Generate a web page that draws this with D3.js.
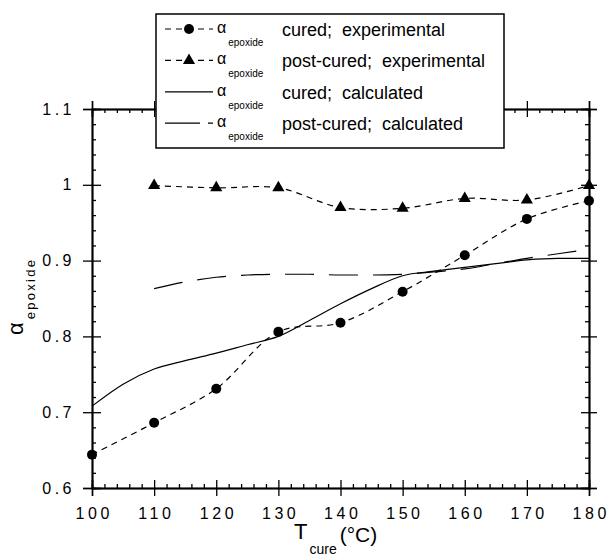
<!DOCTYPE html>
<html><head><meta charset="utf-8">
<script src="https://cdn.jsdelivr.net/npm/d3@7"></script>
<style>
body{margin:0;background:#fff;}
svg{display:block;font-family:"Liberation Sans",Arial,Helvetica,sans-serif;}
</style></head>
<body><svg id="c" width="609" height="557"></svg>
<script>
const xTicks = [100,110,120,130,140,150,160,170,180];
const yTicks = [0.6,0.7,0.8,0.9,1,1.1];
const yTickLabels = ["0.6","0.7","0.8","0.9","1","1.1"];

const curedExpT = [100,110,120,130,140,150,160,170,180];
const curedExpA = [0.644,0.686,0.731,0.806,0.818,0.859,0.907,0.955,0.979];

const postExpT = [110,120,130,140,150,160,170,180];
const postExpA = [0.999,0.996,0.996,0.970,0.969,0.982,0.980,0.999];

const curedCalcT = [100,105,110,115,120,125,130,135,140,145,150,155,160,165,170,175,180];
const curedCalcA = [0.708,0.737,0.757,0.768,0.778,0.789,0.800,0.821,0.843,0.863,0.880,0.886,0.891,0.896,0.901,0.903,0.903];

const postCalcT = [110,115,120,125,130,135,140,145,150,155,160,165,170,175,180];
const postCalcA = [0.863,0.872,0.878,0.881,0.882,0.882,0.881,0.881,0.882,0.885,0.889,0.896,0.903,0.909,0.915];

const legendLabels = ["cured;  experimental","post-cured;  experimental","cured;  calculated","post-cured;  calculated"];

const svg = d3.select("#c");
const x = d3.scaleLinear().domain([100,180]).range([92,589]);
const y = d3.scaleLinear().domain([0.6,1.1]).range([488,109]);
const xMinor = d3.range(100,180.1,2).filter(v=>v%10!==0);
const yMinor = d3.range(0.6,1.1001,0.02).filter(v=>Math.abs(v*10-Math.round(v*10))>0.01);

function styleAxis(g){
  g.select(".domain").attr("stroke","#000").attr("stroke-width",1.5);
  g.selectAll(".tick line").attr("stroke","#000").attr("stroke-width",1.3);
}
// bottom axis
svg.append("g").attr("transform","translate(0,488)")
  .call(d3.axisBottom(x).tickValues(xTicks).tickSize(8).tickPadding(12).tickFormat(d3.format("d")))
  .call(styleAxis)
  .call(g=>g.selectAll("text").attr("font-size",16).attr("letter-spacing","3.5px").attr("fill","#000")
     .attr("font-family","Liberation Sans, Arial, sans-serif").attr("dx","1.7px"));
svg.append("g").attr("transform","translate(0,488)")
  .call(d3.axisBottom(x).tickValues(xTicks).tickSize(-8).tickFormat(""))
  .call(styleAxis);
svg.append("g").attr("transform","translate(0,488)")
  .call(d3.axisBottom(x).tickValues(xMinor).tickSize(-4).tickFormat(""))
  .call(styleAxis);
// top axis
svg.append("g").attr("transform","translate(0,109)")
  .call(d3.axisTop(x).tickValues(xTicks).tickSize(8).tickFormat(""))
  .call(styleAxis);
svg.append("g").attr("transform","translate(0,109)")
  .call(d3.axisTop(x).tickValues(xTicks).tickSize(-8).tickFormat(""))
  .call(styleAxis);
svg.append("g").attr("transform","translate(0,109)")
  .call(d3.axisTop(x).tickValues(xMinor).tickSize(-4).tickFormat(""))
  .call(styleAxis);
// left axis
svg.append("g").attr("transform","translate(92,0)")
  .call(d3.axisLeft(y).tickValues(yTicks).tickSize(9).tickPadding(8).tickFormat((d,i)=>yTickLabels[i]))
  .call(styleAxis)
  .call(g=>g.selectAll("text").attr("font-size",16).attr("letter-spacing","3.5px").attr("fill","#000")
     .attr("font-family","Liberation Sans, Arial, sans-serif"));
svg.append("g").attr("transform","translate(92,0)")
  .call(d3.axisLeft(y).tickValues(yTicks).tickSize(-9).tickFormat(""))
  .call(styleAxis);
svg.append("g").attr("transform","translate(92,0)")
  .call(d3.axisLeft(y).tickValues(yMinor).tickSize(-4).tickFormat(""))
  .call(styleAxis);
// right axis
svg.append("g").attr("transform","translate(589,0)")
  .call(d3.axisRight(y).tickValues(yTicks).tickSize(8).tickFormat(""))
  .call(styleAxis);
svg.append("g").attr("transform","translate(589,0)")
  .call(d3.axisRight(y).tickValues(yTicks).tickSize(-8).tickFormat(""))
  .call(styleAxis);
svg.append("g").attr("transform","translate(589,0)")
  .call(d3.axisRight(y).tickValues(yMinor).tickSize(-4).tickFormat(""))
  .call(styleAxis);

// series
const expLine = d3.line().x(d=>x(d[0])).y(d=>y(d[1])).curve(d3.curveCatmullRom.alpha(0.5));
const calcLine = d3.line().x(d=>x(d[0])).y(d=>y(d[1])).curve(d3.curveMonotoneX);
const zip = (a,b)=>a.map((v,i)=>[v,b[i]]);

svg.append("path").attr("d",calcLine(zip(curedCalcT,curedCalcA)))
  .attr("fill","none").attr("stroke","#000").attr("stroke-width",1.2);
svg.append("path").attr("d",calcLine(zip(postCalcT,postCalcA)))
  .attr("fill","none").attr("stroke","#000").attr("stroke-width",1.2).attr("stroke-dasharray","29,15");
svg.append("path").attr("d",expLine(zip(curedExpT,curedExpA)))
  .attr("fill","none").attr("stroke","#000").attr("stroke-width",1.2).attr("stroke-dasharray","6,5");
svg.append("path").attr("d",expLine(zip(postExpT,postExpA)))
  .attr("fill","none").attr("stroke","#000").attr("stroke-width",1.2).attr("stroke-dasharray","6,5");

const tri = d3.symbol().type(d3.symbolTriangle).size(64);
svg.append("g").selectAll("circle").data(zip(curedExpT,curedExpA)).join("circle")
  .attr("cx",d=>x(d[0])).attr("cy",d=>y(d[1])).attr("r",5).attr("fill","#000");
svg.append("g").selectAll("path").data(zip(postExpT,postExpA)).join("path")
  .attr("d",tri).attr("transform",d=>`translate(${x(d[0])},${y(d[1])})`).attr("fill","#000");

// legend
const lg = svg.append("g");
lg.append("rect").attr("x",156).attr("y",14).attr("width",348).attr("height",134)
  .attr("fill","#fff").attr("stroke","#000").attr("stroke-width",1.5);
const rowY = i=>29+i*31.4;
const dashes = ["6,5","6,5",null,"35,8"];
legendLabels.forEach((lab,i)=>{
  const yy = rowY(i);
  const l = lg.append("line").attr("x1",165).attr("x2",213).attr("y1",yy).attr("y2",yy)
    .attr("stroke","#000").attr("stroke-width",1.2);
  if(dashes[i]) l.attr("stroke-dasharray",dashes[i]);
  if(i===0){ lg.append("rect").attr("x",182).attr("y",yy-6).attr("width",14).attr("height",12).attr("fill","#fff");
    lg.append("circle").attr("cx",189).attr("cy",yy).attr("r",5).attr("fill","#000"); }
  if(i===1){ lg.append("rect").attr("x",182).attr("y",yy-6).attr("width",14).attr("height",12).attr("fill","#fff");
    lg.append("path").attr("d",tri).attr("transform",`translate(189,${yy})`).attr("fill","#000"); }
  const t = lg.append("text").attr("x",217).attr("y",yy+4).attr("fill","#000");
  t.append("tspan").attr("font-size",16).text("α");
  t.append("tspan").attr("font-size",10).attr("dx",2).attr("dy",13).text("epoxide");
  lg.append("text").attr("x",282).attr("y",yy+7).attr("font-size",18).attr("fill","#000")
    .attr("xml:space","preserve").style("white-space","pre").text(lab);
});

// y axis title
const yt = svg.append("text").attr("transform","translate(23,335) rotate(-90)").attr("fill","#000");
yt.append("tspan").attr("font-size",22).text("α");
yt.append("tspan").attr("font-size",13).attr("letter-spacing","2.3px").attr("dx",3).attr("dy",12).text("epoxide");

// x axis title
const xt = svg.append("text").attr("x",294).attr("y",539).attr("fill","#000");
xt.append("tspan").attr("font-size",22).text("T");
xt.append("tspan").attr("font-size",14).attr("dx",2).attr("dy",15).text("cure");
xt.append("tspan").attr("font-size",21).attr("dx",3).attr("dy",-12).text("(°C)");
</script></body></html>
